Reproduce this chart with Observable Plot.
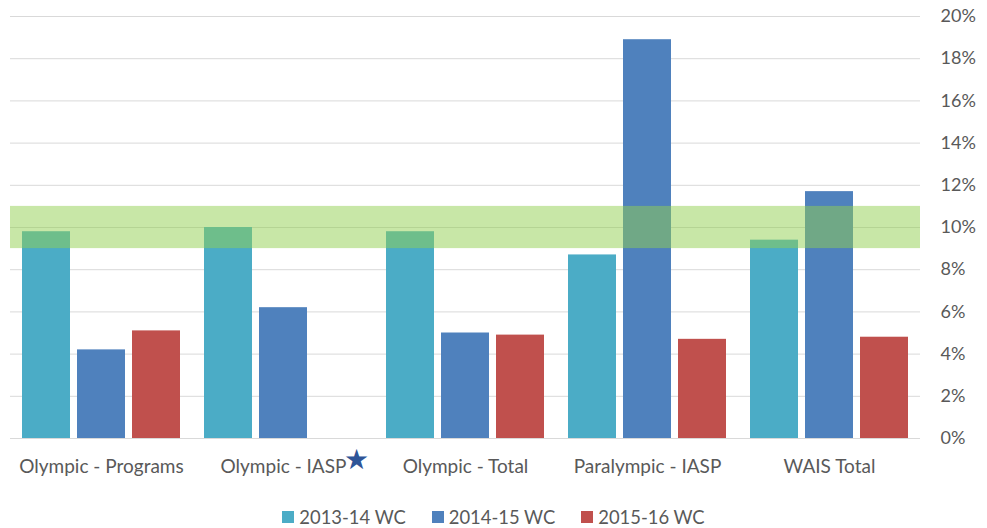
<!DOCTYPE html>
<html>
<head>
<meta charset="utf-8">
<script src="https://cdn.jsdelivr.net/npm/d3@7"></script>
<script src="https://cdn.jsdelivr.net/npm/@observablehq/plot@0.6"></script>
<style>
  html, body { margin: 0; padding: 0; background: #fff; }
  #chart { width: 987px; }
  .legend { display: flex; justify-content: center; align-items: center; padding-top: 19px;
    font-family: Lato, "Open Sans", sans-serif; font-size: 18.4px; color: #595959; line-height: 20px; }
  .legend .item { display: inline-flex; align-items: center; margin: 0 13px; }
  .legend .sw { width: 12px; height: 12px; margin-right: 5px; display: inline-block; }
  #chart svg g[aria-label="y-axis tick label"] { font-size: 18px; }
</style>
</head>
<body>
<div id="chart"></div>
<script>
const categories = ["Olympic - Programs", "Olympic - IASP", "Olympic - Total", "Paralympic - IASP", "WAIS Total"];
const series = ["2013-14 WC", "2014-15 WC", "2015-16 WC"];
const colors = ["#4BACC6", "#4F81BD", "#C0504D"];
const v2013_14 = [9.8, 10.0, 9.8, 8.7, 9.4];
const v2014_15 = [4.2, 6.2, 5.0, 18.9, 11.7];
const v2015_16 = [5.1, null, 4.9, 4.7, 4.8];
const yTicks = [0, 2, 4, 6, 8, 10, 12, 14, 16, 18, 20];
const targetBand = [9, 11];
const starCategory = "Olympic - IASP";

const seriesValues = [v2013_14, v2014_15, v2015_16];
const data = [];
categories.forEach((c, i) => {
  series.forEach((s, j) => {
    const v = seriesValues[j][i];
    if (v != null) data.push({category: c, series: s, value: v});
  });
});

const plot = Plot.plot({
  width: 987,
  height: 488,
  marginLeft: 10,
  marginRight: 67,
  marginTop: 16,
  marginBottom: 50,
  style: {fontFamily: "Lato, 'Open Sans', sans-serif", fontSize: "19px", color: "#595959", background: "#fff"},
  fx: {domain: categories, padding: 0, label: null, tickSize: 0, tickPadding: 21, axis: "bottom"},
  x: {domain: series, paddingInner: 0.127, paddingOuter: 0.218, axis: null},
  y: {domain: [0, 20], ticks: yTicks, tickFormat: d => d + "%", axis: "right", label: null, tickSize: 0, tickPadding: 20},
  color: {domain: series, range: colors},
  marks: [
    Plot.ruleY(yTicks, {stroke: "#D9D9D9", strokeWidth: 1}),
    Plot.barY(data, {fx: "category", x: "series", y: "value", fill: "series", inset: 0}),
    Plot.rectY([{lo: targetBand[0], hi: targetBand[1]}], {y1: "lo", y2: "hi", fill: "#92D050", fillOpacity: 0.5}),
    Plot.text([{category: starCategory}], {fx: "category", text: () => "★", frameAnchor: "bottom", dx: 73, dy: 30, fill: "#2F5597", fontSize: 28, fontFamily: "DejaVu Sans"})
  ]
});
document.getElementById("chart").appendChild(plot);

const legend = document.createElement("div");
legend.className = "legend";
series.forEach((s, i) => {
  const item = document.createElement("span");
  item.className = "item";
  const sw = document.createElement("span");
  sw.className = "sw";
  sw.style.background = colors[i];
  item.appendChild(sw);
  item.appendChild(document.createTextNode(s));
  legend.appendChild(item);
});
document.getElementById("chart").appendChild(legend);
</script>
</body>
</html>
